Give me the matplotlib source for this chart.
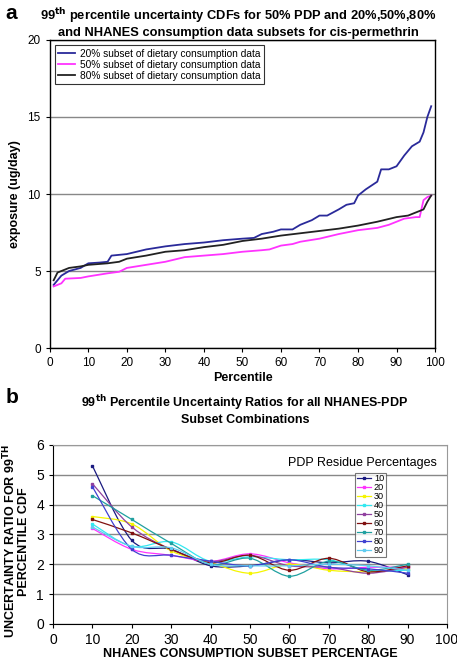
import numpy as np
import matplotlib
matplotlib.use("Agg")
import matplotlib.pyplot as plt
from matplotlib.path import Path
from matplotlib.patches import PathPatch
from matplotlib.lines import Line2D

plt.rcParams['font.family'] = ['Liberation Sans', 'DejaVu Sans']

# ---- panel a: 99th percentile uncertainty CDFs ----
pct_20 = [1, 3, 5, 8, 10, 13, 15, 16, 20, 25, 30, 35, 40, 45, 50, 53, 55, 58, 60, 63, 65,
          68, 70, 72, 75, 77, 79, 80, 82, 85, 86, 88, 90, 92, 94, 96, 97, 98, 99]
exp_20 = [4.1, 4.7, 5.0, 5.2, 5.5, 5.55, 5.6, 6.0, 6.1, 6.4, 6.6, 6.75, 6.85, 7.0, 7.1, 7.15,
          7.4, 7.55, 7.7, 7.7, 8.0, 8.3, 8.6, 8.6, 9.0, 9.3, 9.4, 9.9, 10.3, 10.8, 11.6, 11.6,
          11.8, 12.5, 13.1, 13.4, 14.0, 15.0, 15.7]

pct_50 = [1, 3, 4, 8, 10, 15, 18, 20, 25, 30, 35, 40, 45, 50, 55, 57, 60, 63, 65, 70, 75,
          80, 85, 88, 90, 92, 95, 96, 97, 98, 99]
exp_50 = [4.0, 4.2, 4.5, 4.55, 4.65, 4.85, 4.95, 5.2, 5.4, 5.6, 5.9, 6.0, 6.1, 6.25, 6.35,
          6.4, 6.65, 6.75, 6.9, 7.1, 7.4, 7.65, 7.8, 8.0, 8.2, 8.4, 8.5, 8.5, 9.6, 9.8, 9.9]

pct_80 = [1, 2, 3, 5, 8, 10, 15, 18, 20, 25, 30, 35, 40, 45, 50, 55, 60, 65, 70, 75, 80,
          85, 90, 93, 95, 97, 98, 99]
exp_80 = [4.4, 4.9, 5.0, 5.2, 5.3, 5.4, 5.5, 5.6, 5.8, 6.0, 6.25, 6.35, 6.55, 6.7, 6.95,
          7.1, 7.3, 7.45, 7.6, 7.75, 7.95, 8.2, 8.5, 8.6, 8.8, 9.0, 9.5, 9.9]

# ---- panel b: uncertainty ratios ----
nhanes = [10, 20, 30, 40, 50, 60, 70, 80, 90]
ratios = {
    '10': [5.3, 2.8, 2.5, 1.95, 1.95, 2.15, 2.05, 2.1, 1.65],
    '20': [3.2, 2.5, 2.3, 2.1, 2.35, 2.05, 1.85, 1.9, 1.9],
    '30': [3.6, 3.35, 2.45, 2.05, 1.7, 2.0, 1.8, 1.75, 1.85],
    '40': [3.35, 2.6, 2.75, 2.1, 2.25, 2.15, 2.15, 1.8, 1.8],
    '50': [4.7, 3.25, 2.5, 2.1, 2.3, 1.95, 1.9, 1.7, 1.9],
    '60': [3.5, 3.05, 2.5, 2.05, 2.3, 1.8, 2.2, 1.75, 1.95],
    '70': [4.3, 3.5, 2.7, 2.0, 2.2, 1.6, 2.1, 1.8, 2.0],
    '80': [4.6, 2.5, 2.3, 2.1, 1.95, 2.15, 1.9, 1.85, 1.7],
    '90': [3.25, 2.6, 2.55, 2.0, 1.95, 1.95, 2.0, 1.95, 1.8],
}
colors_b = {'10': '#1a1a80', '20': '#ff33ff', '30': '#f5f500', '40': '#33e8f0',
            '50': '#9040a0', '60': '#801010', '70': '#20a0a0', '80': '#4040d0',
            '90': '#60ccf0'}


def smooth_path(x, y):
    # Excel-style smoothed line: Catmull-Rom drawn as cubic bezier segments
    x = np.asarray(x, float)
    y = np.asarray(y, float)
    verts = [(x[0], y[0])]
    codes = [Path.MOVETO]
    n = len(x)
    for i in range(n - 1):
        p0 = np.array([x[max(i - 1, 0)], y[max(i - 1, 0)]])
        p1 = np.array([x[i], y[i]])
        p2 = np.array([x[i + 1], y[i + 1]])
        p3 = np.array([x[min(i + 2, n - 1)], y[min(i + 2, n - 1)]])
        c1 = p1 + (p2 - p0) / 6
        c2 = p2 - (p3 - p1) / 6
        verts += [tuple(c1), tuple(c2), tuple(p2)]
        codes += [Path.CURVE4] * 3
    return Path(verts, codes)


fig = plt.figure(figsize=(4.57, 6.61), dpi=100)

# panel a
ax1 = fig.add_axes([0.109, 0.4735, 0.843, 0.466])
ax1.plot(pct_20, exp_20, color='#2a2a9a', lw=1.3, label='20% subset of dietary consumption data')
ax1.plot(pct_50, exp_50, color='#ff33ff', lw=1.3, label='50% subset of dietary consumption data')
ax1.plot(pct_80, exp_80, color='#222222', lw=1.3, label='80% subset of dietary consumption data')
ax1.set_xlim(0, 100)
ax1.set_ylim(0, 20)
ax1.set_xticks(range(0, 101, 10))
ax1.set_yticks([0, 5, 10, 15, 20])
ax1.yaxis.grid(True, color='#888888', lw=1)
ax1.set_axisbelow(True)
ax1.tick_params(labelsize=8.5, direction='out', length=3, width=0.8)
for s in ax1.spines.values():
    s.set_linewidth(1.0)
ax1.set_xlabel('Percentile', fontsize=9, fontweight='bold', labelpad=2)
ax1.set_ylabel('exposure (ug/day)', fontsize=9, fontweight='bold', labelpad=5)
ax1.set_title('99$^{\\mathbf{th}}$ percentile uncertainty CDFs for 50% PDP and 20%,50%,80%\n'
              'and NHANES consumption data subsets for cis-permethrin',
              fontsize=9.3, fontweight='bold', pad=3, x=0.49)
leg1 = ax1.legend(loc='upper left', fontsize=7.3, frameon=True, fancybox=False,
                  edgecolor='black', handlelength=1.6, labelspacing=0.1,
                  borderaxespad=0.5, borderpad=0.35, handletextpad=0.5)
leg1.get_frame().set_linewidth(0.8)
fig.text(0.012, 0.972, 'a', fontsize=15, fontweight='bold')

# panel b
ax2 = fig.add_axes([0.116, 0.056, 0.862, 0.271])
handles = []
for key, vals in ratios.items():
    c = colors_b[key]
    ax2.add_patch(PathPatch(smooth_path(nhanes, vals), facecolor='none', edgecolor=c, lw=0.9))
    ax2.plot(nhanes, vals, ls='none', marker='s', ms=2.0, color=c)
    handles.append(Line2D([0], [0], color=c, lw=0.9, marker='s', ms=2.0))
ax2.set_xlim(0, 100)
ax2.set_ylim(0, 6)
ax2.set_xticks(range(0, 101, 10))
ax2.set_yticks(range(0, 7))
ax2.yaxis.grid(True, color='#888888', lw=1)
ax2.set_axisbelow(True)
ax2.tick_params(labelsize=10, direction='out', length=3, width=0.8)
ax2.spines['top'].set_color('#999999')
ax2.spines['right'].set_color('#999999')
ax2.set_xlabel('NHANES CONSUMPTION SUBSET PERCENTAGE', fontsize=9, fontweight='bold', labelpad=1)
ax2.set_ylabel('UNCERTAINTY RATIO FOR 99$^{\\mathbf{TH}}$\nPERCENTILE CDF', fontsize=9,
               fontweight='bold', linespacing=1.0)
ax2.yaxis.set_label_coords(-0.058, 0.46)
ax2.set_title('99$^{\\mathbf{th}}$ Percentile Uncertainty Ratios for all NHANES-PDP\n'
              'Subset Combinations', fontsize=9.0, fontweight='bold', pad=16, x=0.487)
ax2.text(0.975, 0.9, 'PDP Residue Percentages', transform=ax2.transAxes, ha='right',
         va='center', fontsize=9)
leg2 = ax2.legend(handles, list(ratios.keys()), loc='upper left', bbox_to_anchor=(0.767, 0.844),
                  fontsize=6.6, frameon=True, fancybox=False, edgecolor='#555555',
                  handlelength=1.6, labelspacing=0.0, borderpad=0.15, handletextpad=0.3,
                  borderaxespad=0)
leg2.get_frame().set_linewidth(0.8)
fig.text(0.012, 0.39, 'b', fontsize=15, fontweight='bold')

fig.savefig('out.png', dpi=100)
